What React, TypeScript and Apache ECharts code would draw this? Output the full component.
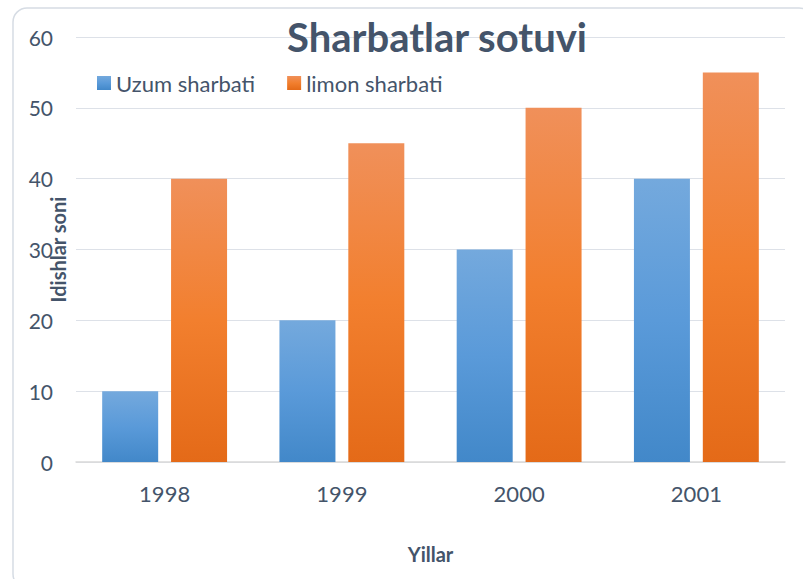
import React, { useEffect, useRef } from "react";
import * as echarts from "echarts";

const categories = ["1998", "1999", "2000", "2001"];
const uzumValues = [10, 20, 30, 40];
const limonValues = [40, 45, 50, 55];
const seriesNames = ["Uzum sharbati", "limon sharbati"];

const textColor = "#44546a";
const font = "Lato, 'Open Sans', sans-serif";

export default function App() {
  const ref = useRef<HTMLDivElement>(null);
  useEffect(() => {
    const chart = echarts.init(ref.current!, null, { renderer: "svg" });
    const blue = new echarts.graphic.LinearGradient(0, 0, 0, 1, [
      { offset: 0, color: "#74a9dd" },
      { offset: 0.5, color: "#5a9ad9" },
      { offset: 1, color: "#4288c9" },
    ]);
    const orange = new echarts.graphic.LinearGradient(0, 0, 0, 1, [
      { offset: 0, color: "#f0905a" },
      { offset: 0.5, color: "#f27f2e" },
      { offset: 1, color: "#e46a18" },
    ]);
    chart.setOption({
      animation: false,
      backgroundColor: "#ffffff",
      graphic: [
        {
          type: "rect",
          shape: { x: 13, y: 8, width: 800, height: 580, r: 14 },
          style: { fill: "#ffffff", stroke: "#d6dce4", lineWidth: 1.5 },
          z: -10,
        },
      ],
      title: {
        text: "Sharbatlar sotuvi",
        left: 432,
        top: 12,
        textAlign: "center",
        textStyle: { fontFamily: font, fontSize: 40, fontWeight: "bold", color: textColor },
      },
      legend: {
        left: 92,
        top: 67,
        itemWidth: 14,
        itemHeight: 14,
        itemGap: 32,
        icon: "rect",
        textStyle: { fontFamily: font, fontSize: 22, color: textColor },
        data: seriesNames,
      },
      grid: { left: 76, right: 18, top: 37, bottom: 117, containLabel: false, outerBoundsMode: "none" },
      xAxis: {
        type: "category",
        data: categories,
        name: "Yillar",
        nameLocation: "middle",
        nameGap: 82,
        nameMoveOverlap: false,
        nameTextStyle: { fontFamily: font, fontSize: 20, fontWeight: "bold", color: textColor },
        axisLine: { lineStyle: { color: "#d9d9d9", width: 1.5 } },
        axisTick: { show: false },
        axisLabel: { fontFamily: font, fontSize: 22, color: textColor, margin: 20 },
      },
      yAxis: {
        type: "value",
        min: 0,
        max: 60,
        interval: 10,
        name: "Idishlar soni",
        nameLocation: "middle",
        nameGap: 8,
        nameRotate: 90,
        nameMoveOverlap: false,
        nameTextStyle: { fontFamily: font, fontSize: 20, fontWeight: "bold", color: textColor },
        axisLine: { show: false },
        axisTick: { show: false },
        axisLabel: { fontFamily: font, fontSize: 21, color: textColor, margin: 23 },
        splitLine: { lineStyle: { color: "#dde1e8", width: 1 } },
      },
      series: [
        {
          name: seriesNames[0],
          type: "bar",
          data: uzumValues,
          barWidth: 56,
          barGap: "23%",
          itemStyle: { color: blue },
        },
        {
          name: seriesNames[1],
          type: "bar",
          data: limonValues,
          barWidth: 56,
          barGap: "23%",
          itemStyle: { color: orange },
        },
      ],
    });
    return () => chart.dispose();
  }, []);
  return (
    <div
      ref={ref}
      style={{ position: "fixed", left: 0, top: 0, width: 803, height: 579 }}
    />
  );
}
